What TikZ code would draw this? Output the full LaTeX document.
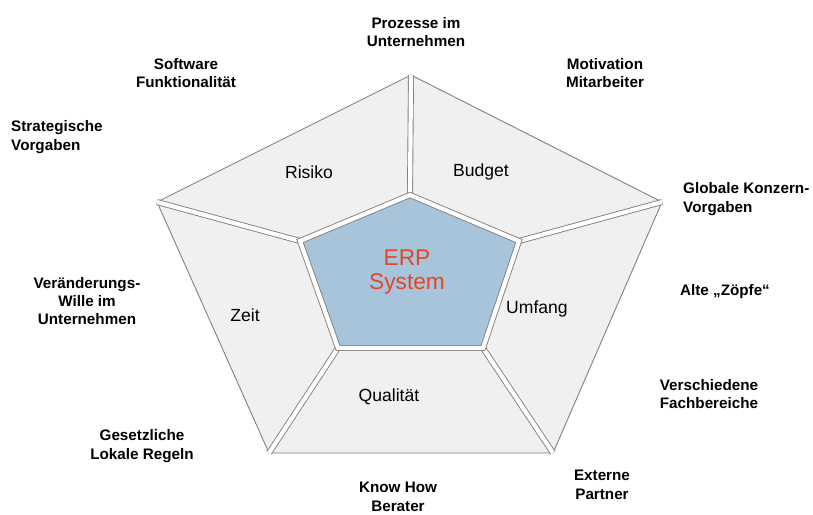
\documentclass[tikz,border=0pt]{standalone}
\usepackage{fontspec}
\setmainfont{Liberation Sans}
\usepackage{xcolor}
\usepackage{tikz}
\usetikzlibrary{positioning,calc}

\definecolor{piecegray}{HTML}{F0F0F0}
\definecolor{edgegray}{HTML}{7F7F7F}
\definecolor{coreblue}{HTML}{A8C4DA}
\definecolor{erpred}{HTML}{E2452A}

\begin{document}
\begin{tikzpicture}[
    x=0.03cm, y=-0.03cm,
    factor/.style={font=\fontsize{13}{15.7}\selectfont\bfseries, align=center, inner sep=0pt},
    factorleft/.style={factor, align=left, anchor=west},
    piece/.style={font=\fontsize{15}{18}\selectfont, inner sep=0pt},
    erp/.style={font=\fontsize{19.4}{20.4}\selectfont, text=erpred, align=center, inner sep=0pt},
    gap/.style={draw=edgegray, line width=0.75pt, double=white, double distance=3.6pt, line join=miter}
]
    \useasboundingbox (0,0) rectangle (813,515);

    % Pentagon corners
    \coordinate (outtop) at (411,75);
    \coordinate (outleft) at (157,202);
    \coordinate (outright) at (662,202);
    \coordinate (outbl) at (269,453);
    \coordinate (outbr) at (553,453);
    \coordinate (intop) at (410,195);
    \coordinate (inleft) at (300,241);
    \coordinate (inright) at (519,241);
    \coordinate (inbl) at (338,348);
    \coordinate (inbr) at (483,348);

    % Pieces
    \fill[piecegray] (outtop) -- (outright) -- (outbr) -- (outbl) -- (outleft) -- cycle;
    \draw[edgegray, line width=0.75pt, line join=miter] (outtop) -- (outright) -- (outbr) -- (outbl) -- (outleft) -- cycle;
    \fill[coreblue] (intop) -- (inright) -- (inbr) -- (inbl) -- (inleft) -- cycle;
    \foreach \c in {top,left,right,bl,br}
        \draw[gap] (in\c) -- (out\c);
    \draw[gap] (intop) -- (inright) -- (inbr) -- (inbl) -- (inleft) -- cycle;

    % Piece labels
    \node[piece] (risiko) at (309,172) {Risiko};
    \node[piece] (budget) at (481,172) {Budget};
    \node[piece] (zeit) at (245,315) {Zeit};
    \node[piece] (umfang) at (537,309) {Umfang};
    \node[piece] (qualitaet) at (389,397) {Qualität};
    \node[erp] (erp) at (407,272) {ERP\\System};

    % Outer factors
    \node[factor] (prozesse) at (416,32) {Prozesse im\\Unternehmen};
    \node[factor] (software) at (186,73) {Software\\Funktionalität};
    \node[factor] (motivation) at (605,73) {Motivation\\Mitarbeiter};
    \node[factorleft] (strategie) at (11,137) {Strategische\\Vorgaben};
    \node[factorleft] (konzern) at (683,199) {Globale Konzern-\\Vorgaben};
    \node[factor] (wille) at (87,301) {Veränderungs-\\Wille im\\Unternehmen};
    \node[factor] (zoepfe) at (725,292) {Alte „Zöpfe“};
    \node[factor] (fachbereiche) at (709,394) {Verschiedene\\Fachbereiche};
    \node[factor] (regeln) at (142,446) {Gesetzliche\\Lokale Regeln};
    \node[factor] (partner) at (602,485) {Externe\\Partner};
    \node[factor] (berater) at (398,497) {Know How\\Berater};
\end{tikzpicture}
\end{document}
